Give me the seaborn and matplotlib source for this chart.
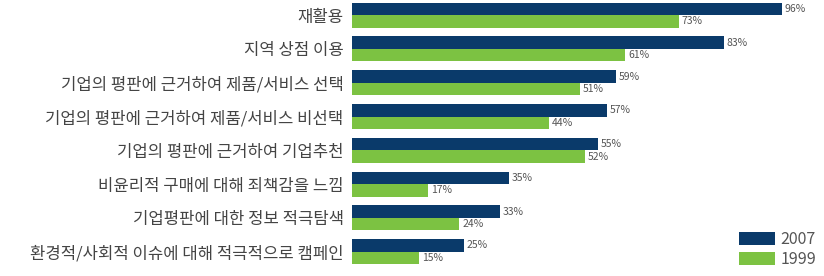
import matplotlib
matplotlib.use("Agg")
import matplotlib.pyplot as plt
import seaborn as sns
import pandas as pd

categories = [
    "재활용",
    "지역 상점 이용",
    "기업의 평판에 근거하여 제품/서비스 선택",
    "기업의 평판에 근거하여 제품/서비스 비선택",
    "기업의 평판에 근거하여 기업추천",
    "비윤리적 구매에 대해 죄책감을 느낌",
    "기업평판에 대한 정보 적극탐색",
    "환경적/사회적 이슈에 대해 적극적으로 캠페인",
]
values_2007 = [96, 83, 59, 57, 55, 35, 33, 25]
values_1999 = [73, 61, 51, 44, 52, 17, 24, 15]
years = ["2007", "1999"]
colors = ["#0a3a6a", "#7cc242"]

df = pd.DataFrame({
    "category": categories * 2,
    "value": values_2007 + values_1999,
    "year": [years[0]] * len(categories) + [years[1]] * len(categories),
})

sns.set_style("white")
plt.rcParams["font.family"] = ["Noto Sans CJK KR", "DejaVu Sans"]

fig = plt.figure(figsize=(8.24, 2.76), dpi=100)
ax = fig.add_axes([352 / 824, 0, 1 - 352 / 824, 1])
sns.barplot(data=df, y="category", x="value", hue="year", hue_order=years,
            order=categories, orient="h", palette=colors, width=0.74,
            saturation=1, linewidth=0, ax=ax, legend=True)

for cont in ax.containers:
    ax.bar_label(cont, labels=[f"{int(v)}%" for v in cont.datavalues],
                 padding=2, fontsize=7.5, color="#555555")

ax.set_xlim(0, 105.4)
ax.set_ylim(7.72, -0.45)
ax.set_xlabel("")
ax.set_ylabel("")
ax.set_xticks([])
ax.tick_params(axis="y", length=0, pad=6, labelsize=12, labelcolor="#444444")
for s in ax.spines.values():
    s.set_visible(False)

leg = ax.legend(loc="lower right", frameon=False, fontsize=11.5,
                handlelength=2.3, handleheight=0.85, handletextpad=0.3,
                labelspacing=0.2, borderaxespad=0.1, labelcolor="#555555")

fig.savefig("out.png", dpi=100)
